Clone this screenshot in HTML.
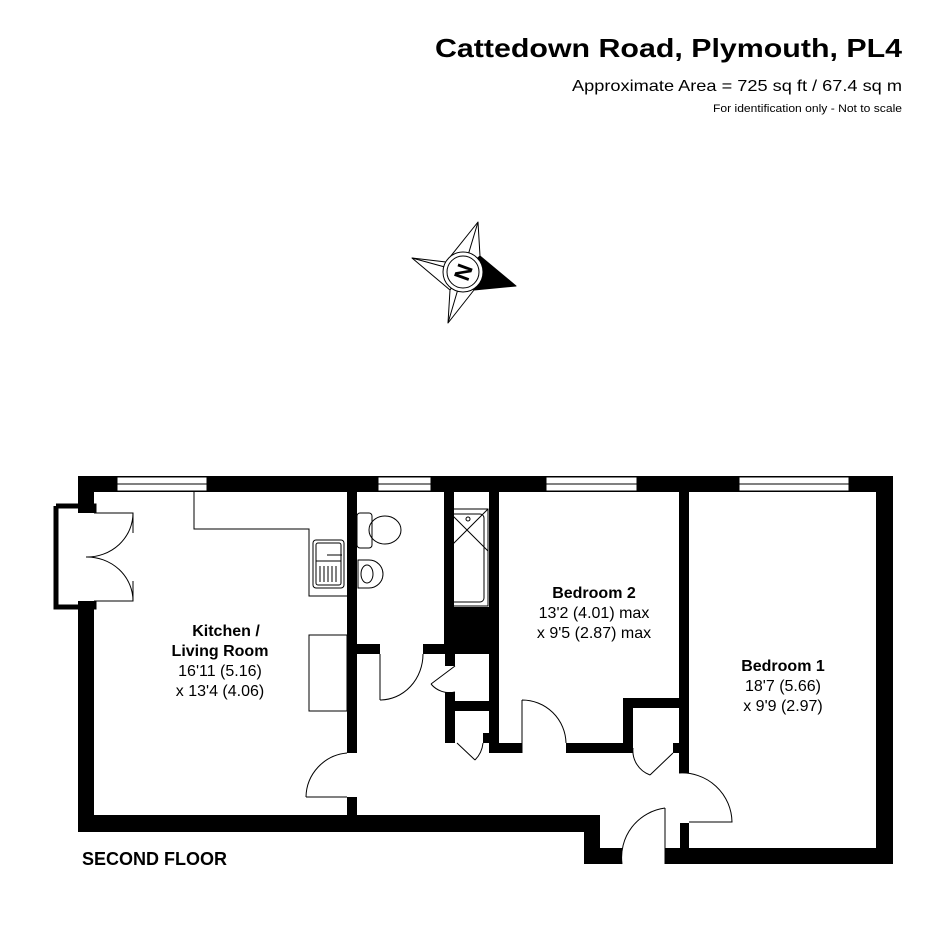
<!DOCTYPE html>
<html><head><style>html,body{margin:0;padding:0;background:#fff}svg{display:block}</style></head>
<body>
<svg width="945" height="945" viewBox="0 0 945 945" xmlns="http://www.w3.org/2000/svg" font-family="Liberation Sans, Arial, sans-serif">
<rect width="945" height="945" fill="#fff"/>
<text x="902" y="57" text-anchor="end" font-size="26" font-weight="bold" textLength="467" lengthAdjust="spacingAndGlyphs">Cattedown Road, Plymouth, PL4</text>
<text x="902" y="91" text-anchor="end" font-size="16" textLength="330" lengthAdjust="spacingAndGlyphs">Approximate Area = 725 sq ft / 67.4 sq m</text>
<text x="902" y="112" text-anchor="end" font-size="11" textLength="189" lengthAdjust="spacingAndGlyphs">For identification only - Not to scale</text>

<g stroke="#000" stroke-width="1" fill="#fff" stroke-linejoin="round">
<polygon points="478,222 480,256 463,272 446,262"/>
<polygon points="412,258 446,262 463,272 450,290"/>
<polygon points="448,323 450,290 463,272 474,290"/>
<polygon points="516,286 474,290 463,272 480,256" fill="#000"/>
<path d="M478,222 L463,272 M412,258 L463,272 M448,323 L463,272" fill="none"/>
<circle cx="463" cy="272" r="20"/>
<circle cx="463" cy="272" r="16"/>
</g>
<text x="463" y="280" text-anchor="middle" font-size="22" font-weight="bold" transform="rotate(-70 463 272)">N</text>

<g fill="#000">
<rect x="78" y="476" width="815" height="16"/>
<rect x="78" y="476" width="16" height="356"/>
<rect x="78" y="815" width="522" height="17"/>
<rect x="584" y="815" width="16" height="49"/>
<rect x="584" y="848" width="38" height="16"/>
<rect x="680" y="823" width="9" height="41"/>
<rect x="665" y="848" width="228" height="16"/>
<rect x="876" y="476" width="17" height="388"/>
<rect x="347" y="492" width="10" height="261"/>
<rect x="347" y="797" width="10" height="18"/>
<rect x="444" y="492" width="10" height="115"/>
<rect x="444" y="607" width="53" height="47"/>
<rect x="489" y="492" width="10" height="261"/>
<rect x="357" y="644" width="23" height="10"/>
<rect x="423" y="644" width="30" height="10"/>
<rect x="445" y="654" width="10" height="12"/>
<rect x="445" y="692" width="10" height="51"/>
<rect x="445" y="701" width="52" height="10"/>
<rect x="483" y="733" width="8" height="10"/>
<rect x="489" y="743" width="33" height="10"/>
<rect x="566" y="743" width="67" height="10"/>
<rect x="623" y="698" width="10" height="55"/>
<rect x="623" y="698" width="66" height="10"/>
<rect x="673" y="743" width="16" height="10"/>
<rect x="679" y="492" width="10" height="281"/>
</g>
<rect x="78" y="513" width="16" height="88" fill="#fff"/>
<path d="M56,506 H94 V513 M56,506 V607 H94 V601" stroke="#000" stroke-width="5" fill="none"/>
<g fill="#fff" stroke="#000" stroke-width="1">
<rect x="117" y="477" width="90" height="14"/>
<rect x="378" y="477" width="53" height="14"/>
<rect x="546" y="477" width="91" height="14"/>
<rect x="739" y="477" width="110" height="14"/>
</g>
<g stroke="#000" stroke-width="1">
<line x1="117" y1="484" x2="207" y2="484"/>
<line x1="378" y1="484" x2="431" y2="484"/>
<line x1="546" y1="484" x2="637" y2="484"/>
<line x1="739" y1="484" x2="849" y2="484"/>
</g>
<g fill="none" stroke="#000" stroke-width="1">
<path d="M94,513 H133 V533 M86,557 A46,44 0 0 0 133,513"/>
<path d="M94,601 H133 V581 M86,557 A46,44 0 0 1 133,601"/>
<path d="M194,492 V529 H309 V596 H347"/>
<rect x="309" y="635" width="38" height="76"/>
<rect x="313" y="540" width="31" height="48" rx="3"/>
<rect x="316" y="543" width="25" height="42" rx="2"/>
<path d="M316,561 H341 M320,566 V582 M324,566 V582 M328,566 V582 M332,566 V582 M336,566 V582 M327,555 H342"/>
<rect x="357" y="513" width="15" height="35" rx="3"/>
<ellipse cx="385" cy="530" rx="16" ry="14"/>
<path d="M358,560 H369 A14,14 0 0 1 369,588 H358 Z"/>
<ellipse cx="367" cy="574" rx="6" ry="9"/>
<rect x="446" y="509" width="42" height="97"/>
<rect x="450" y="514" width="34" height="88" rx="4"/>
<path d="M446,509 L488,551 M488,509 L446,551"/>
<circle cx="468" cy="519" r="2"/>
<path d="M306,797 H347 M306,797 A45,45 0 0 1 347,753"/>
<path d="M380,654 V700 M380,700 A43,46 0 0 0 423,654"/>
<path d="M455,666 L431,684 M431,684 A24,24 0 0 0 455,692"/>
<path d="M457,743 L475,760 M475,760 A28,28 0 0 0 483,743"/>
<path d="M522,753 V700 M522,700 A44,44 0 0 1 566,743"/>
<path d="M673,753 L650,775 M650,775 A26,26 0 0 1 633,748"/>
<path d="M679,773 A50,50 0 0 1 732,822 H689"/>
<path d="M665,808 V864 M665,808 A50,50 0 0 0 622,864"/>
</g>

<text x="226" y="636" text-anchor="middle" font-size="16" font-weight="bold">Kitchen /</text>
<text x="220" y="656" text-anchor="middle" font-size="16" font-weight="bold">Living Room</text>
<text x="220" y="676" text-anchor="middle" font-size="16">16'11 (5.16)</text>
<text x="220" y="696" text-anchor="middle" font-size="16">x 13'4 (4.06)</text>
<text x="594" y="598" text-anchor="middle" font-size="16" font-weight="bold">Bedroom 2</text>
<text x="594" y="618" text-anchor="middle" font-size="16">13'2 (4.01) max</text>
<text x="594" y="638" text-anchor="middle" font-size="16">x 9'5 (2.87) max</text>
<text x="783" y="671" text-anchor="middle" font-size="16" font-weight="bold">Bedroom 1</text>
<text x="783" y="691" text-anchor="middle" font-size="16">18'7 (5.66)</text>
<text x="783" y="711" text-anchor="middle" font-size="16">x 9'9 (2.97)</text>
<text x="82" y="865" font-size="18" font-weight="bold">SECOND FLOOR</text>
</svg>
</body></html>
